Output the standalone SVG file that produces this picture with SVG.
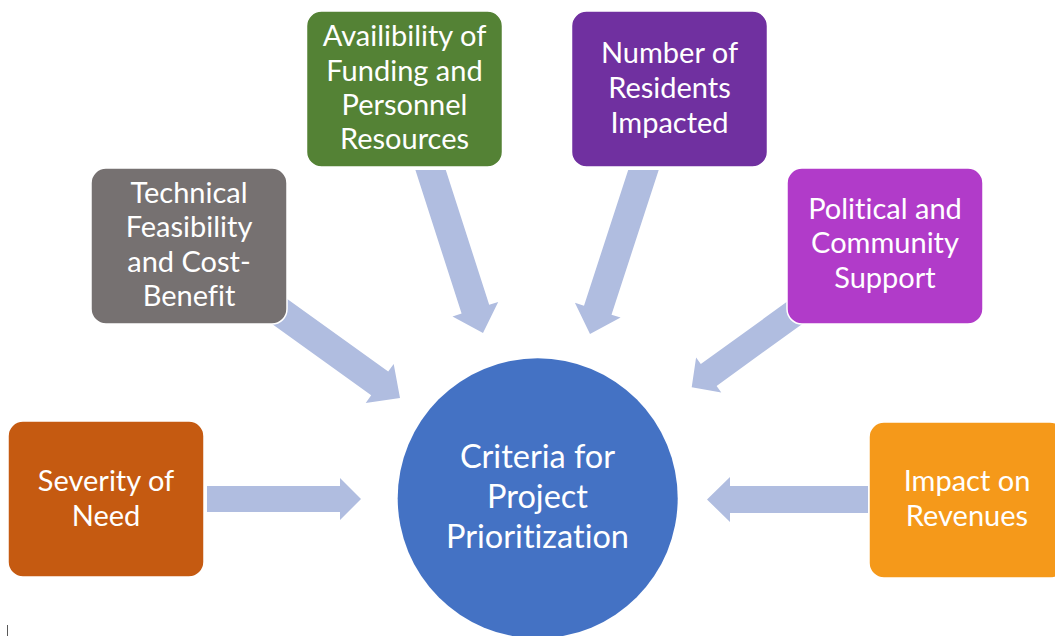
<svg xmlns="http://www.w3.org/2000/svg" width="1055" height="636" viewBox="0 0 1055 636">
<style>
.bg{fill:#ffffff}
.arrow{fill:#B0BDE0}
.box{stroke:#ffffff;stroke-width:1.5}
.lbl{font-family:Lato,"Open Sans","Liberation Sans",sans-serif;font-size:29px;fill:#ffffff;text-anchor:middle;font-variant-ligatures:none}
.ctr{font-size:32.5px}
</style>
<rect class="bg" x="0" y="0" width="1055" height="636"/>
<g id="connectors">
<polygon class="arrow" points="207,486 340,486 340,478 361,499 340,520 340,512 207,512"/>
<polygon class="arrow" points="868,486 730,486 730,477 707,499.5 730,522 730,513 868,513"/>
<polygon class="arrow" points="266.4,284.1 388.2,371.6 393.7,363.9 400,398 365.7,402.9 371.2,395.2 249.4,307.7"/>
<polygon class="arrow" points="415.4,170 445.8,170 489.2,304.8 498.2,301.9 483,333 452.5,316.5 461.6,313.6"/>
<polygon class="arrow" points="628.2,170 658.7,170 611.5,314.7 620.6,317.6 590,334 574.9,302.8 584,305.7"/>
<polygon class="arrow" points="814.2,282.1 700.8,364.1 696.1,357.6 691.7,387.3 721.3,392.4 716.6,385.9 830,303.9"/>
</g>
<g id="node-center">
<circle cx="537.7" cy="498.3" r="140" fill="#4472C4"/>
<text class="lbl ctr"><tspan x="537.5" y="468.3">Criteria for</tspan><tspan x="537.5" y="508.3">Project</tspan><tspan x="537.5" y="548.3">Prioritization</tspan></text>
</g>
<g id="node-severity">
<rect class="box" x="8" y="421" width="196" height="156" rx="15" fill="#C55A11"/>
<text class="lbl"><tspan x="106" y="491">Severity of</tspan><tspan x="106" y="525.5">Need</tspan></text>
</g>
<g id="node-technical">
<rect class="box" x="91" y="168" width="196" height="156" rx="15" fill="#767171"/>
<text class="lbl"><tspan x="189" y="202.7">Technical</tspan><tspan x="189" y="236.7">Feasibility</tspan><tspan x="189" y="271.7">and Cost-</tspan><tspan x="189" y="306">Benefit</tspan></text>
</g>
<g id="node-funding">
<rect class="box" x="306.5" y="11" width="196" height="156" rx="15" fill="#548235"/>
<text class="lbl"><tspan x="404.5" y="45.7">Availibility of</tspan><tspan x="404.5" y="80.7">Funding and</tspan><tspan x="404.5" y="115">Personnel</tspan><tspan x="404.5" y="149.3">Resources</tspan></text>
</g>
<g id="node-residents">
<rect class="box" x="571.5" y="11" width="196" height="156" rx="15" fill="#7030A0"/>
<text class="lbl"><tspan x="669.5" y="62.7">Number of</tspan><tspan x="669.5" y="97.7">Residents</tspan><tspan x="669.5" y="132.7">Impacted</tspan></text>
</g>
<g id="node-political">
<rect class="box" x="787" y="168" width="196" height="156" rx="15" fill="#B13BC9"/>
<text class="lbl"><tspan x="885" y="219">Political and</tspan><tspan x="885" y="253.3">Community</tspan><tspan x="885" y="288.3">Support</tspan></text>
</g>
<g id="node-revenues">
<rect class="box" x="869" y="422" width="196" height="156" rx="15" fill="#F5991A"/>
<text class="lbl"><tspan x="967" y="491">Impact on</tspan><tspan x="967" y="525.7">Revenues</tspan></text>
</g>
<line x1="7.5" y1="625" x2="7.5" y2="636" stroke="#595959" stroke-width="1"/>
</svg>
